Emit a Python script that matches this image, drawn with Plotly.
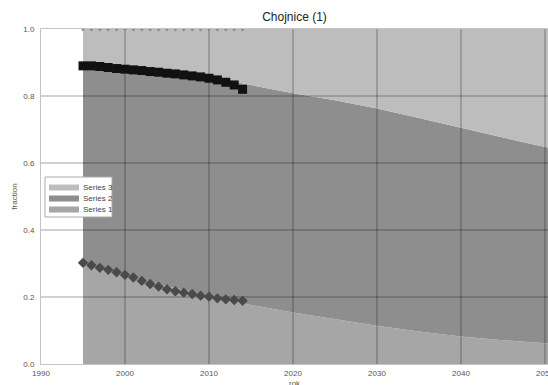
import plotly.graph_objects as go

title_text = "Chojnice (1)"
x_title = "rok"
y_title = "fraction"
series_names = ["Series 1", "Series 2", "Series 3"]
series_colors = ["#a6a6a6", "#8e8e8e", "#bdbdbd"]

# observed points (markers)
obs_years = list(range(1995, 2015))
obs_upper = [0.890, 0.890, 0.888, 0.885, 0.882, 0.880, 0.878, 0.876, 0.873, 0.871,
             0.868, 0.866, 0.863, 0.860, 0.857, 0.853, 0.848, 0.841, 0.833, 0.820]
obs_lower = [0.302, 0.295, 0.287, 0.281, 0.274, 0.266, 0.258, 0.248, 0.239, 0.231,
             0.223, 0.217, 0.213, 0.209, 0.204, 0.201, 0.196, 0.193, 0.191, 0.189]
obs_top = [1.0] * len(obs_years)

# model (stacked areas)
model_years = [1995, 2000, 2005, 2010, 2015, 2020, 2025, 2030, 2035, 2040, 2045, 2050, 2051]
model_lower = [0.300, 0.266, 0.233, 0.204, 0.176, 0.154, 0.133, 0.114, 0.097, 0.082, 0.071, 0.062, 0.060]
model_upper = [0.890, 0.881, 0.870, 0.857, 0.832, 0.808, 0.787, 0.763, 0.734, 0.704, 0.676, 0.648, 0.643]
model_top = [1.0] * len(model_years)

x_ticks = [1990, 2000, 2010, 2020, 2030, 2040, 2050]
y_ticks = [0.0, 0.2, 0.4, 0.6, 0.8, 1.0]
x_range = [1990, 2050.36]

W, H = 548, 385
ML, MR, MT, MB = 41, 0, 29, 21
PW, PH = W - ML - MR, H - MT - MB


def px_x(px):
    return (px - ML) / PW


def px_y(py):
    return (H - MB - py) / PH


fig = go.Figure()

# stacked areas
for name, yv, fillmode, col in [
    (series_names[0], model_lower, "tozeroy", series_colors[0]),
    (series_names[1], model_upper, "tonexty", series_colors[1]),
    (series_names[2], model_top, "tonexty", series_colors[2]),
]:
    fig.add_trace(go.Scatter(
        x=model_years, y=yv, name=name, mode="lines", showlegend=False,
        line=dict(width=0, color=col), fill=fillmode, fillcolor=col,
        hoverinfo="skip",
    ))

# grid lines drawn over the areas
gx, gy = [], []
for t in x_ticks[1:]:
    gx += [t, t, None]
    gy += [y_ticks[0], y_ticks[-1], None]
for t in y_ticks[1:-1]:
    gx += [x_range[0], x_range[1] + 1, None]
    gy += [t, t, None]
fig.add_trace(go.Scatter(x=gx, y=gy, mode="lines", showlegend=False,
                         line=dict(color="rgba(0,0,0,0.36)", width=1), hoverinfo="skip"))

# markers
fig.add_trace(go.Scatter(x=obs_years, y=obs_top, mode="markers", showlegend=False,
                         marker=dict(symbol="triangle-down", size=5, color="#8a8a8a")))
fig.add_trace(go.Scatter(x=obs_years, y=obs_upper, mode="markers", showlegend=False,
                         marker=dict(symbol="square", size=9, color="#111111")))
fig.add_trace(go.Scatter(x=obs_years, y=obs_lower, mode="markers", showlegend=False,
                         marker=dict(symbol="diamond", size=8, color="#4a4a4a")))

# legend box (drawn like the original compact legend)
shapes = [dict(type="rect", xref="paper", yref="paper",
               x0=px_x(45), x1=px_x(112), y0=px_y(217), y1=px_y(177),
               fillcolor="white", line=dict(color="#aaaaaa", width=1), layer="above")]
annotations = []
legend_rows = [(series_names[2], series_colors[2], 187.5),
               (series_names[1], series_colors[1], 198.5),
               (series_names[0], series_colors[0], 209.5)]
for name, col, yc in legend_rows:
    shapes.append(dict(type="rect", xref="paper", yref="paper",
                       x0=px_x(49), x1=px_x(79), y0=px_y(yc + 3), y1=px_y(yc - 3),
                       fillcolor=col, line=dict(width=0), layer="above"))
    annotations.append(dict(text=name, xref="paper", yref="paper",
                            x=px_x(81), y=px_y(yc), xanchor="left", yanchor="middle",
                            showarrow=False, font=dict(size=8, color="#444444")))

# x-axis title sits low, partly below the page edge as in the original
annotations.append(dict(text=x_title, xref="paper", yref="paper", x=0.5, y=px_y(383.5),
                        xanchor="center", yanchor="middle", showarrow=False,
                        font=dict(size=8, color="#555555")))

fig.update_layout(
    width=W, height=H, autosize=False,
    margin=dict(l=ML, r=MR, t=MT, b=MB, pad=0),
    paper_bgcolor="white", plot_bgcolor="white",
    font=dict(family="Liberation Sans, Arial, sans-serif", size=8, color="#555555"),
    title=dict(text=title_text, x=0.5, xref="paper", xanchor="center",
               y=1 - 16.5 / H, yref="container", yanchor="middle",
               font=dict(size=12, color="#222222")),
    showlegend=False,
    shapes=shapes,
    annotations=annotations,
)
fig.update_xaxes(range=x_range, tickvals=x_ticks, ticktext=[str(t) for t in x_ticks],
                 showgrid=False, zeroline=False, showline=True, linecolor="#c4c4c4",
                 linewidth=1, mirror=True, ticks="outside", ticklen=1,
                 tickcolor="rgba(0,0,0,0)", tickfont=dict(size=8, color="#555555"),
                 ticklabeloverflow="allow",
                 automargin=False)
fig.update_yaxes(range=[0, 1], tickvals=y_ticks, tickformat=".1f",
                 showgrid=False, zeroline=False, showline=True, linecolor="#c4c4c4",
                 linewidth=1, ticks="outside", ticklen=4,
                 tickcolor="rgba(0,0,0,0)", tickfont=dict(size=8, color="#555555"),
                 title=dict(text=y_title, font=dict(size=8, color="#555555"), standoff=4),
                 automargin=False)

fig.write_html("out.html", config={"displayModeBar": False},
               post_script="document.body.style.margin='0';")
